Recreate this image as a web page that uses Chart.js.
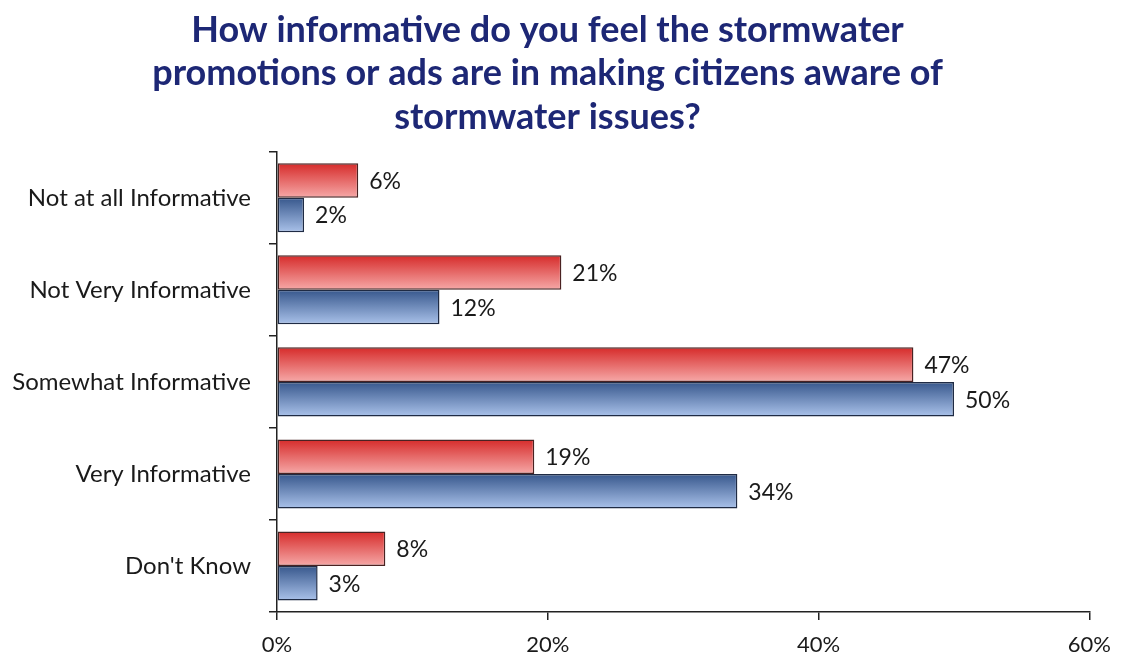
<!DOCTYPE html>
<html>
<head>
<meta charset="utf-8">
<script src="https://cdn.jsdelivr.net/npm/chart.js@4.4.1/dist/chart.umd.min.js"></script>
<style>
  html, body { margin: 0; padding: 0; background: #fff; }
  #wrap { width: 1123px; height: 661px; position: relative; }
</style>
</head>
<body>
<div id="wrap"><canvas id="c" width="1123" height="661"></canvas></div>
<script>
const categories = ["Not at all Informative", "Not Very Informative", "Somewhat Informative", "Very Informative", "Don't Know"];
const seriesRed = [6, 21, 47, 19, 8];
const seriesBlue = [2, 12, 50, 34, 3];
const xTicks = [0, 20, 40, 60];
const titleLines = ["How informative do you feel the stormwater", "promotions or ads are in making citizens aware of", "stormwater issues?"];

const FONT = "Lato, 'Open Sans', sans-serif";

const gradients = {
  red: ["#d62b2a", "#f6a9a8"],
  blue: ["#37578c", "#aac2ea"]
};

const gradientPlugin = {
  id: 'barGradient',
  beforeDatasetDraw(chart, args) {
    const meta = args.meta;
    const ds = chart.data.datasets[args.index];
    const stops = gradients[ds.gradKey];
    const ctx = chart.ctx;
    meta.data.forEach(el => {
      const h = el.height;
      const top = el.y - h / 2;
      const g = ctx.createLinearGradient(0, top, 0, top + h);
      g.addColorStop(0, stops[0]);
      g.addColorStop(1, stops[1]);
      el.options = Object.assign({}, el.options, { backgroundColor: g });
    });
  }
};

const labelPlugin = {
  id: 'valueLabels',
  afterDatasetsDraw(chart) {
    const ctx = chart.ctx;
    ctx.save();
    ctx.font = "23px " + FONT;
    ctx.fillStyle = "#1a1a1a";
    ctx.textAlign = "left";
    ctx.textBaseline = "middle";
    chart.data.datasets.forEach((ds, di) => {
      const meta = chart.getDatasetMeta(di);
      meta.data.forEach((el, i) => {
        ctx.fillText(ds.data[i] + "%", el.x + 11, el.y + 1);
      });
    });
    ctx.restore();
  }
};

new Chart(document.getElementById('c'), {
  type: 'bar',
  data: {
    labels: categories,
    datasets: [
      { label: 'Red', data: seriesRed, gradKey: 'red', borderColor: '#4a2222', borderWidth: 1.5, borderSkipped: false, barPercentage: 1.0, categoryPercentage: 0.75 },
      { label: 'Blue', data: seriesBlue, gradKey: 'blue', borderColor: '#1f2b44', borderWidth: 1.5, borderSkipped: false, barPercentage: 1.0, categoryPercentage: 0.75 }
    ]
  },
  options: {
    indexAxis: 'y',
    responsive: false,
    animation: false,
    layout: { padding: { left: 0, right: 28, top: 0, bottom: 0 } },
    plugins: {
      legend: { display: false },
      tooltip: { enabled: false },
      title: {
        display: true,
        text: titleLines,
        color: '#1d2775',
        font: { family: FONT, size: 36, weight: 'bold', lineHeight: 1.22 },
        padding: { top: 8, bottom: 12 }
      }
    },
    scales: {
      x: {
        min: 0, max: 60,
        afterBuildTicks(scale) { scale.ticks = xTicks.map(v => ({ value: v })); },
        afterFit(scale) { scale.height = 49; },
        grid: { drawOnChartArea: false, drawTicks: true, tickLength: 8, color: '#222', lineWidth: 1.5 },
        border: { display: true, color: '#222', width: 1.5 },
        ticks: { callback: v => v + '%', color: '#1a1a1a', font: { family: FONT, size: 22 }, padding: 12, maxRotation: 0 }
      },
      y: {
        afterFit(scale) { scale.width = 277; },
        grid: { drawOnChartArea: false, drawTicks: true, tickLength: 8, offset: true, color: '#222', lineWidth: 1.5 },
        border: { display: true, color: '#222', width: 1.5 },
        ticks: { color: '#1a1a1a', font: { family: FONT, size: 24 }, padding: 18 }
      }
    }
  },
  plugins: [gradientPlugin, labelPlugin]
});
</script>
</body>
</html>
